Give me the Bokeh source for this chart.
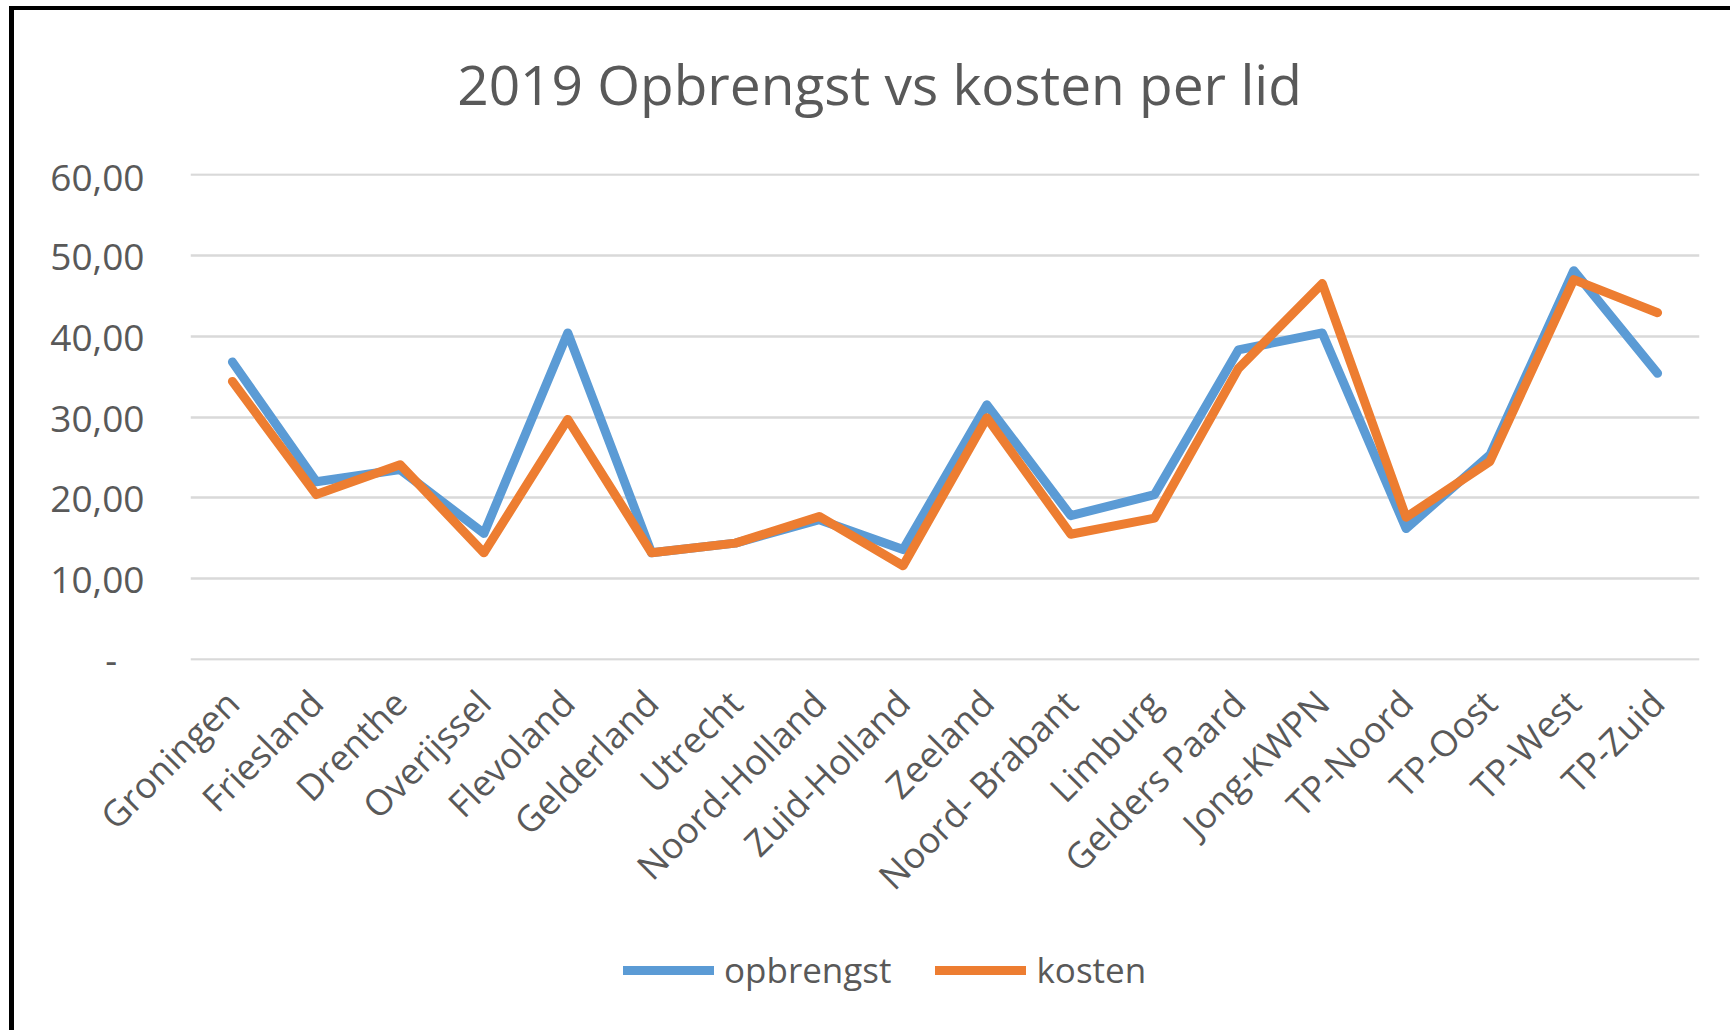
from bokeh.plotting import figure
from bokeh.layouts import column
from bokeh.models import (Range1d, FixedTicker, Legend, LegendItem, Label)
from bokeh.embed import file_html
from bokeh.resources import INLINE

# ---- data ----
categories = ["Groningen", "Friesland", "Drenthe", "Overijssel", "Flevoland",
              "Gelderland", "Utrecht", "Noord-Holland", "Zuid-Holland", "Zeeland",
              "Noord- Brabant", "Limburg", "Gelders Paard", "Jong-KWPN",
              "TP-Noord", "TP-Oost", "TP-West", "TP-Zuid"]
opbrengst = [36.8, 22.0, 23.5, 15.6, 40.4, 13.2, 14.4, 17.3, 13.6, 31.5,
             17.8, 20.4, 38.3, 40.4, 16.2, 25.3, 48.1, 35.4]
kosten = [34.4, 20.4, 24.1, 13.2, 29.7, 13.2, 14.4, 17.7, 11.6, 29.9,
          15.5, 17.5, 36.0, 46.5, 17.6, 24.5, 47.0, 42.9]
y_ticks = [0, 10, 20, 30, 40, 50, 60]
y_tick_labels = ["-\u2007\u2009", "10,00", "20,00", "30,00", "40,00", "50,00", "60,00"]
title_text = "2019 Opbrengst vs kosten per lid"
series_names = ["opbrengst", "kosten"]

BLUE = "#5B9BD5"
ORANGE = "#ED7D31"
TXT = "#595959"
FONT = "Open Sans"

W = 1716
FRAME_W = 1509


def strip(height):
    f = figure(width=W, height=height, output_backend="svg", toolbar_location=None,
               tools="", x_range=Range1d(0, FRAME_W), y_range=Range1d(0, height),
               x_axis_location=None, y_axis_location=None,
               min_border_left=0, min_border_right=0, min_border_top=0,
               min_border_bottom=0)
    f.outline_line_color = None
    f.grid.grid_line_color = None
    return f


# ---- title strip ----
TITLE_H = 140
pt = strip(TITLE_H)
pt.add_layout(Label(x=689, y=TITLE_H - 73, text=title_text, text_align="center",
                    text_baseline="middle", text_font=FONT,
                    text_font_size="55px", text_color=TXT))

# ---- main chart ----
p = figure(x_range=categories, y_range=Range1d(-0.12, 60.12), width=W,
           height=930 - TITLE_H, output_backend="svg", toolbar_location=None,
           tools="")
p.min_border_left = 176
p.min_border_right = 31
p.min_border_top = 163 - TITLE_H
p.min_border_bottom = 280
p.outline_line_color = None
p.background_fill_color = "white"
p.border_fill_color = "white"

line_style = dict(line_width=9, line_cap="round", line_join="round")
p.line(categories, opbrengst, line_color=BLUE, **line_style)
p.line(categories, kosten, line_color=ORANGE, **line_style)

p.yaxis.ticker = FixedTicker(ticks=y_ticks)
p.yaxis.major_label_overrides = {t: l for t, l in zip(y_ticks, y_tick_labels)}
for ax in (p.xaxis[0], p.yaxis[0]):
    ax.axis_line_color = None
    ax.major_tick_line_color = None
    ax.minor_tick_line_color = None
    ax.major_label_text_color = TXT
    ax.major_label_text_font = FONT
p.yaxis.major_label_text_font_size = "37px"
p.xaxis.major_label_text_font_size = "36px"
p.yaxis.major_label_standoff = 40
p.xaxis.major_label_orientation = 0.785398
p.xaxis.major_label_standoff = 30

p.xgrid.grid_line_color = None
p.ygrid.ticker = FixedTicker(ticks=y_ticks)
p.ygrid.grid_line_color = "#D9D9D9"
p.ygrid.grid_line_width = 2.5

# ---- legend strip ----
pl = strip(90)
# legend-only renderers, kept outside the visible range
l1 = pl.line(x=[-20, -10], y=[-20, -20], line_color=BLUE, **line_style)
l2 = pl.line(x=[-20, -10], y=[-20, -20], line_color=ORANGE, **line_style)
legend = Legend(items=[LegendItem(label=series_names[0], renderers=[l1]),
                       LegendItem(label=series_names[1], renderers=[l2])],
                orientation="horizontal", location=(433, 37),
                glyph_width=91, glyph_height=44, label_height=44,
                label_standoff=10, spacing=44, padding=0, margin=0,
                border_line_color=None, background_fill_alpha=0,
                label_text_font=FONT, label_text_font_size="35px",
                label_text_color=TXT)
pl.add_layout(legend, "center")

layout = column(pt, p, pl, spacing=0,
                styles={"border-left": "5px solid black",
                        "border-top": "4px solid black",
                        "margin-left": "9px", "margin-top": "6px"})

open("out.html", "w").write(file_html(layout, INLINE))
